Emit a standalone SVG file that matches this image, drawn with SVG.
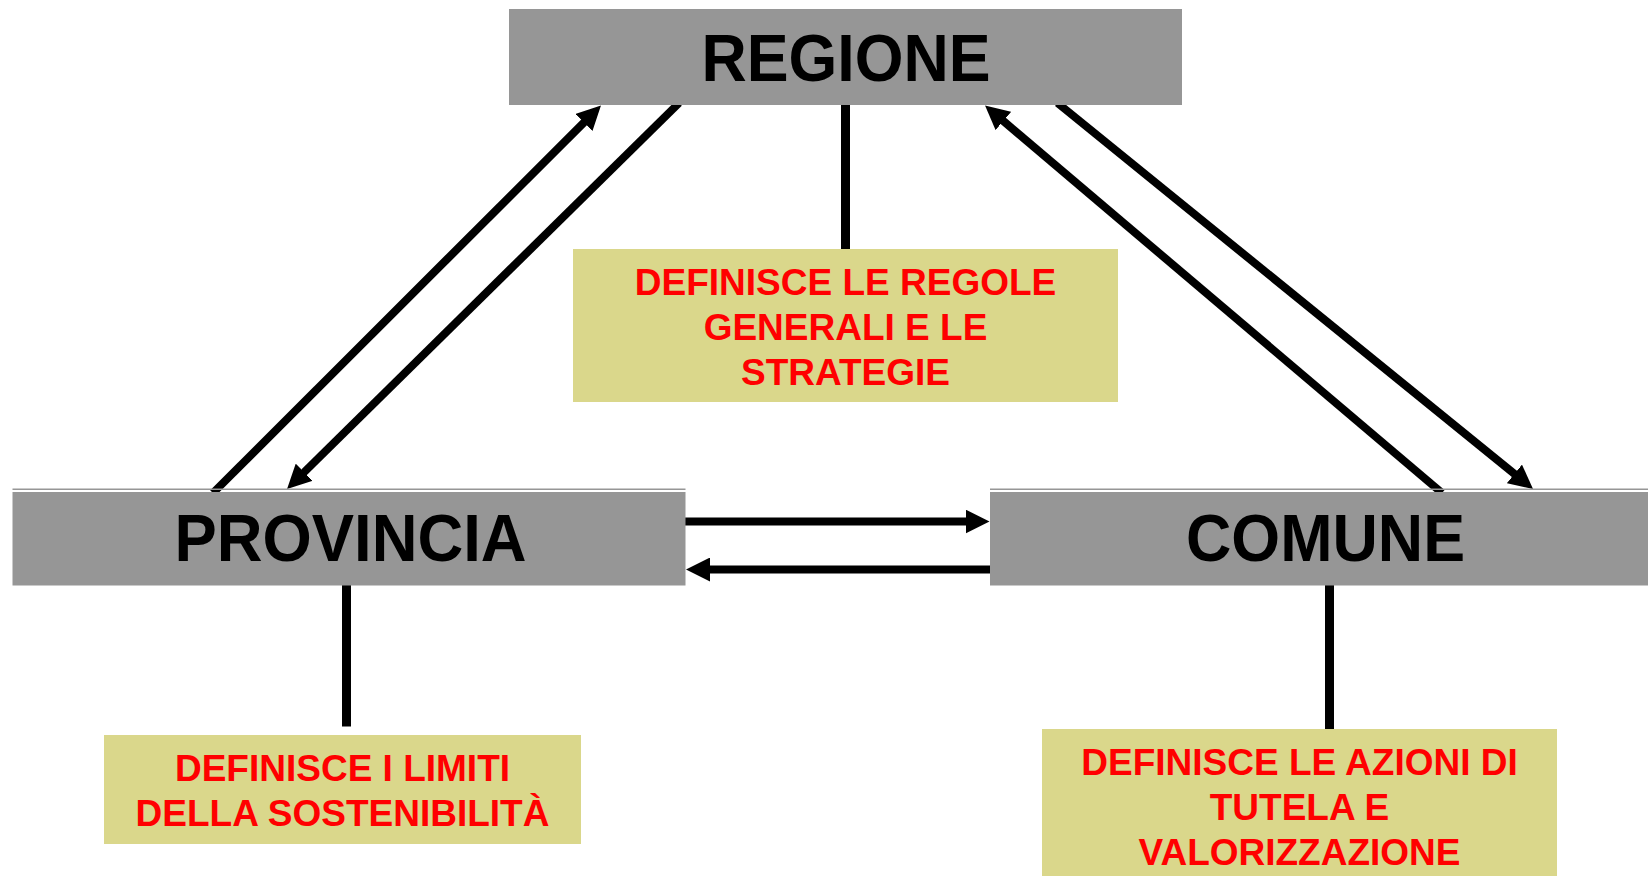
<svg xmlns="http://www.w3.org/2000/svg" width="1648" height="876" viewBox="0 0 1648 876">
<style>
.box{fill:#969696}
.rule{fill:#969696}
.note{fill:#DAD78B}
.title{font-family:"Liberation Sans",Arial,sans-serif;font-weight:bold;font-size:66px;fill:#000;text-anchor:middle}
.txt{font-family:"Liberation Sans",Arial,sans-serif;font-weight:bold;font-size:37px;fill:#FF0000;text-anchor:middle}
.arr{stroke:#000;stroke-width:8;fill:none;marker-end:url(#ah)}
.stem{stroke:#000;stroke-width:9;fill:none}
</style>
<defs>
<marker id="ah" markerUnits="userSpaceOnUse" viewBox="0 0 24 24" refX="4" refY="12" markerWidth="24" markerHeight="24" orient="auto">
<path d="M0,0 L24,12 L0,24 z" fill="#000"/>
</marker>
</defs>
<rect width="1648" height="876" fill="#fff"/>
<g id="connectors">
<line class="arr" x1="213" y1="493" x2="586.8" y2="119.6"/>
<line class="arr" x1="679" y1="103" x2="301.3" y2="475"/>
<line class="arr" x1="1442" y1="493" x2="1000.3" y2="118.4"/>
<line class="arr" x1="1057.5" y1="103" x2="1517.5" y2="476.4"/>
<line class="arr" x1="684" y1="521.5" x2="969.5" y2="521.5"/>
<line class="arr" x1="992" y1="569.5" x2="706" y2="569.5"/>
<line class="stem" x1="845.5" y1="103" x2="845.5" y2="250"/>
<line class="stem" x1="346.5" y1="584" x2="346.5" y2="726.5"/>
<line class="stem" x1="1329.5" y1="584" x2="1329.5" y2="730"/>
</g>
<g id="regione">
<rect class="box" x="509" y="9" width="673" height="96"/>
<text class="title" x="846" y="81" textLength="289" lengthAdjust="spacingAndGlyphs">REGIONE</text>
</g>
<g id="provincia">
<rect class="rule" x="12.5" y="488.5" width="673" height="1.5"/>
<rect class="box" x="12.5" y="492" width="673" height="93.5"/>
<text class="title" x="350.5" y="561" textLength="352" lengthAdjust="spacingAndGlyphs">PROVINCIA</text>
</g>
<g id="comune">
<rect class="rule" x="990" y="488.5" width="670" height="1.5"/>
<rect class="box" x="990" y="492" width="670" height="93.5"/>
<text class="title" x="1325.5" y="561" textLength="279" lengthAdjust="spacingAndGlyphs">COMUNE</text>
</g>
<g id="nota-regione">
<rect class="note" x="573" y="249" width="545" height="153"/>
<text class="txt" x="845.5" y="294.7">DEFINISCE LE REGOLE</text>
<text class="txt" x="845.5" y="339.5">GENERALI E LE</text>
<text class="txt" x="845.5" y="384.5">STRATEGIE</text>
</g>
<g id="nota-provincia">
<rect class="note" x="104" y="735" width="477" height="109"/>
<text class="txt" x="342.5" y="781">DEFINISCE I LIMITI</text>
<text class="txt" x="342.5" y="826">DELLA SOSTENIBILITÀ</text>
</g>
<g id="nota-comune">
<rect class="note" x="1042" y="729" width="515" height="147"/>
<text class="txt" x="1299.5" y="774.7">DEFINISCE LE AZIONI DI</text>
<text class="txt" x="1299.5" y="820">TUTELA E</text>
<text class="txt" x="1299.5" y="865">VALORIZZAZIONE</text>
</g>
</svg>
